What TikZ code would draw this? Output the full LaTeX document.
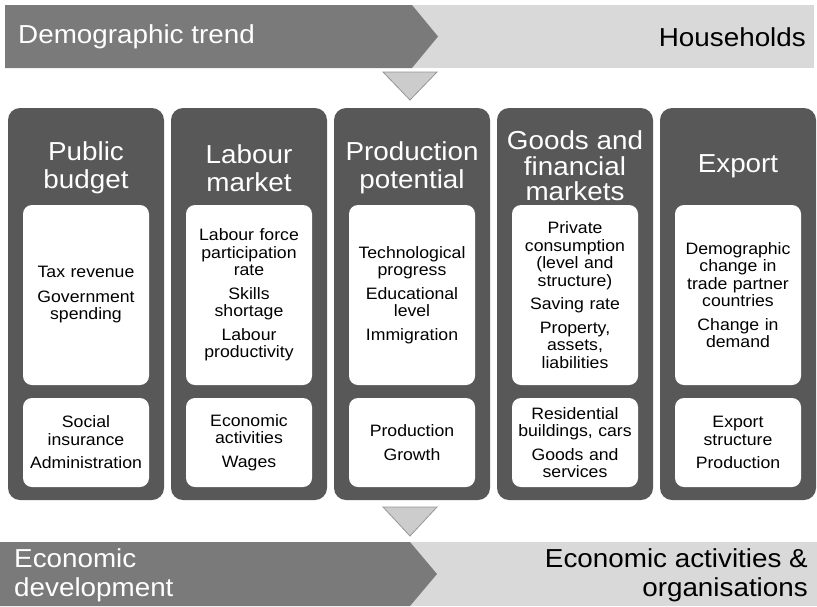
\documentclass[tikz,border=0pt]{standalone}
\usepackage{fontspec}
\setmainfont{Liberation Sans}[FakeStretch=1.07]
\usetikzlibrary{positioning}
\definecolor{bardark} {RGB}{122,122,122}
\definecolor{barlight}{RGB}{217,217,217}
\definecolor{coldark} {RGB}{ 88, 88, 88}
\definecolor{trifill} {RGB}{204,204,204}
\definecolor{triline} {RGB}{150,150,150}
\tikzset{
  headtext/.style={font=\fontsize{26}{29}\selectfont, inner sep=0pt},
  column/.style={fill=coldark, rounded corners=12pt, minimum width=156pt,
    minimum height=392pt, inner sep=0pt},
  coltitle/.style={text=white, font=\fontsize{26}{28}\selectfont,
    align=center, inner sep=0pt},
  upperbox/.style={fill=white, rounded corners=9pt, minimum width=126pt,
    minimum height=180pt, text width=120pt, align=center, inner sep=0pt,
    font=\fontsize{16.5}{17.5}\selectfont},
  lowerbox/.style={upperbox, minimum height=89pt},
  downtri/.style={fill=trifill, draw=triline, line width=0.8pt},
}

\begin{document}
\begin{tikzpicture}[x=1pt, y=-1pt]
  \useasboundingbox (0,0) rectangle (817,606);
  % top bar
  \fill[barlight] (5,5) rectangle (814,68);
  \fill[bardark] (5,5) -- (412,5) -- (438,36.5) -- (412,68) -- (5,68) -- cycle;
  \node[headtext, text=white, anchor=west] (trend) at (18,37) {Demographic trend};
  \node[headtext, anchor=east] (households) at (806,37) {Households};
  % arrow down
  \draw[downtri] (383,72) -- (437,72) -- (410,100) -- cycle;
  % columns
  \node[column] (col1) at (86,304) {};
  \node[column] (col2) at (249,304) {};
  \node[column] (col3) at (412,304) {};
  \node[column] (col4) at (575,304) {};
  \node[column] (col5) at (738,304) {};
  % column titles
  \node[coltitle] (title1) at (86,168) {Public\\budget};
  \node[coltitle] (title2) at (249,168) {Labour\\market};
  \node[coltitle] (title3) at (412,168) {Production\\potential};
  \node[coltitle, font=\fontsize{26}{25.5}\selectfont] (title4) at (575,166)
    {Goods and\\financial\\markets};
  \node[coltitle] (title5) at (738,166) {Export};
  % upper boxes
  \node[upperbox] (up1) at (86,295) {Tax revenue\\[7pt]Government\\spending};
  \node[upperbox] (up2) at (249,295)
    {Labour force\\participation\\rate\\[6pt]Skills\\shortage\\[6pt]Labour\\productivity};
  \node[upperbox] (up3) at (412,295)
    {Technological\\progress\\[6pt]Educational\\level\\[6pt]Immigration};
  \node[upperbox] (up4) at (575,295)
    {Private\\consumption\\(level and\\structure)\\[6pt]Saving rate\\[6pt]Property,\\assets,\\liabilities};
  \node[upperbox] (up5) at (738,295)
    {Demographic\\change in\\trade partner\\countries\\[6pt]Change in\\demand};
  % lower boxes
  \node[lowerbox] (low1) at (86,442.5) {Social\\insurance\\[6pt]Administration};
  \node[lowerbox] (low2) at (249,442.5) {Economic\\activities\\[6pt]Wages};
  \node[lowerbox] (low3) at (412,442.5) {Production\\[6pt]Growth};
  \node[lowerbox] (low4) at (575,442.5) {Residential\\buildings, cars\\[6pt]Goods and\\services};
  \node[lowerbox] (low5) at (738,442.5) {Export\\structure\\[6pt]Production};
  % arrow down
  \draw[downtri] (383,507) -- (437,507) -- (410,536) -- cycle;
  % bottom bar
  \fill[barlight] (0,542) rectangle (817,606);
  \fill[bardark] (0,542) -- (410,542) -- (437,574) -- (410,606) -- (0,606) -- cycle;
  \node[headtext, text=white, anchor=west, align=left] (econdev) at (14,575)
    {Economic\\development};
  \node[headtext, anchor=east, align=right] (activities) at (808,575)
    {Economic activities \&\\organisations};
\end{tikzpicture}
\end{document}
